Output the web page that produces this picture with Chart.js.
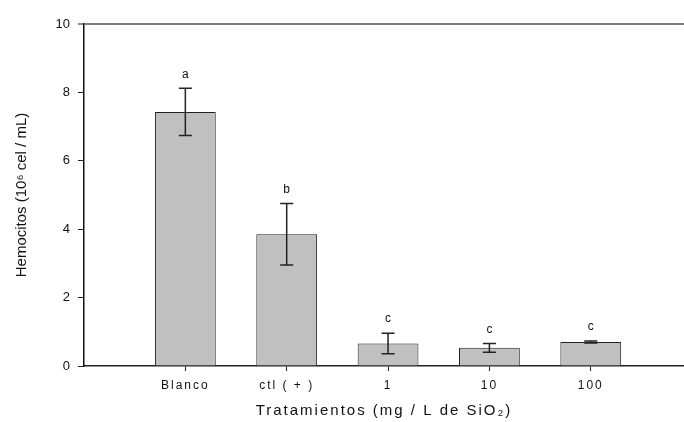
<!DOCTYPE html>
<html>
<head>
<meta charset="utf-8">
<script src="https://cdn.jsdelivr.net/npm/chart.js@4"></script>
<style>
  html, body { margin: 0; padding: 0; background: #fff; }
  canvas { display: block; }
</style>
</head>
<body>
<canvas id="c" width="684" height="422"></canvas>
<script>
// ---- data ----
const categories = ['Blanco', 'ctl ( + )', '1', '10', '100'];
const positions = [1, 2, 3, 4, 5];
const means = [7.43, 3.85, 0.66, 0.53, 0.70];
const errors = [0.69, 0.90, 0.30, 0.13, 0.03];
const letters = ['a', 'b', 'c', 'c', 'c'];
const yTicks = [0, 2, 4, 6, 8, 10];

const FONT = '"Liberation Sans", Arial, sans-serif';

const errorBarPlugin = {
  id: 'errorBars',
  afterDatasetsDraw(chart) {
    const ctx = chart.ctx;
    const xs = chart.scales.x, ys = chart.scales.y;
    ctx.save();
    ctx.strokeStyle = '#222';
    ctx.lineWidth = 1.5;
    ctx.fillStyle = '#111';
    ctx.font = '12px ' + FONT;
    ctx.textAlign = 'center';
    ctx.textBaseline = 'middle';
    means.forEach((m, i) => {
      const x = xs.getPixelForValue(positions[i]);
      const yTop = ys.getPixelForValue(m + errors[i]);
      const yBot = ys.getPixelForValue(m - errors[i]);
      const cap = 6.5;
      ctx.beginPath();
      ctx.moveTo(x, yTop); ctx.lineTo(x, yBot);
      ctx.moveTo(x - cap, yTop); ctx.lineTo(x + cap, yTop);
      ctx.moveTo(x - cap, yBot); ctx.lineTo(x + cap, yBot);
      ctx.stroke();
      ctx.fillText(letters[i], x, yTop - 14);
    });
    ctx.restore();
  }
};

function patchSpacing(sc, px) {
  if (!sc || sc._spacedPatch) return;
  ['drawLabels', 'drawTitle'].forEach(name => {
    const orig = sc[name];
    sc[name] = function (...args) {
      const ctx = this.ctx;
      ctx.save();
      ctx.letterSpacing = px;
      orig.apply(this, args);
      ctx.restore();
    };
  });
  sc._spacedPatch = true;
}

const spacingPlugin = {
  id: 'xLetterSpacing',
  afterUpdate(chart) { patchSpacing(chart.scales.x, '2px'); }
};

const chart = new Chart(document.getElementById('c'), {
  type: 'bar',
  data: {
    datasets: [{
      data: positions.map((p, i) => ({ x: p, y: means[i] })),
      backgroundColor: '#c0c0c0',
      borderColor: '#222',
      borderWidth: 1,
      barPercentage: 0.6,
      categoryPercentage: 1
    }]
  },
  options: {
    responsive: false,
    animation: false,
    layout: { padding: { left: 0, right: 0, top: 24, bottom: 0 } },
    plugins: { legend: { display: false }, tooltip: { enabled: false } },
    scales: {
      x: {
        type: 'linear',
        min: 0,
        max: 5.92,
        offset: false,
        afterBuildTicks(scale) { scale.ticks = positions.map(v => ({ value: v })); },
        afterFit(scale) { scale.height = 56; },
        ticks: {
          autoSkip: false,
          maxRotation: 0,
          color: '#111',
          font: { size: 12, family: FONT },
          padding: 7,
          callback(v) { const i = positions.indexOf(v); return i >= 0 ? categories[i] : ''; }
        },
        grid: { offset: false, drawOnChartArea: false, color: 'rgba(0,0,0,0)', tickColor: '#222', tickLength: 5, tickWidth: 1 },
        border: { display: true, color: '#222', width: 1.5 },
        title: {
          display: true,
          text: 'Tratamientos (mg / L de SiO₂)',
          color: '#111',
          font: { size: 15, family: FONT },
          padding: { top: 0, bottom: 2 }
        }
      },
      y: {
        min: 0,
        max: 10,
        afterBuildTicks(scale) { scale.ticks = yTicks.map(v => ({ value: v })); },
        afterFit(scale) { scale.width = 84; },
        ticks: {
          color: '#111',
          font: { size: 13, family: FONT },
          padding: 8
        },
        grid: {
          color: (c) => (c.tick && c.tick.value === 10 ? '#808080' : 'rgba(0,0,0,0)'),
          lineWidth: (c) => (c.tick && c.tick.value === 10 ? 2 : 1),
          tickColor: '#222',
          tickLength: 6,
          tickWidth: 1
        },
        border: { display: true, color: '#111', width: 1.5 },
        title: {
          display: true,
          text: 'Hemocitos (10⁶ cel / mL)',
          color: '#111',
          font: { size: 15, family: FONT },
          padding: { top: 13, bottom: 0 }
        }
      }
    }
  },
  plugins: [errorBarPlugin, spacingPlugin]
});
patchSpacing(chart.scales.x, '2px');
chart.draw();
</script>
</body>
</html>
